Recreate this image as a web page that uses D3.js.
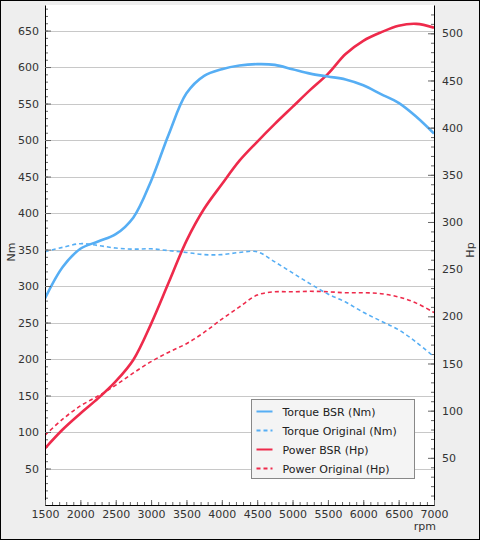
<!DOCTYPE html>
<html lang="en">
<head>
  <meta charset="UTF-8">
  <title>Dyno</title>
  <script src="https://d3js.org/d3.v7.min.js"></script>
  <style>
    body { margin: 0; background: #fff; }
    svg { display: block; font-family: "DejaVu Sans", sans-serif; }
  </style>
</head>
<body>
  <div id="chart"></div>
  <script>
    const rpm = [1500, 1750, 2000, 2250, 2500, 2750, 3000, 3250, 3500, 3750, 4000, 4250,
                 4500, 4750, 5000, 5250, 5500, 5750, 6000, 6250, 6500, 6750, 7000];
    const torqueBsr = [283, 326, 351, 361, 371, 394, 444, 508, 564, 588, 597, 602,
                       604, 603, 597, 591, 587, 583, 575, 563, 551, 532, 509];
    const torqueOrig = [347, 353, 358, 355.5, 352, 350.5, 351, 348.5, 346, 343, 343, 346,
                        347, 333, 318, 303, 289, 278, 264, 252, 240, 223, 203];
    const powerBsr = [60, 80, 97, 113, 131, 154, 192, 236, 280, 314, 340, 365,
                      385, 404, 422, 440, 457, 478, 492, 501, 508, 510, 506];
    const powerOrig = [74, 91, 105, 115.5, 127, 140, 152, 162, 171, 183, 197, 210,
                       222.5, 226, 226, 226.5, 226, 225, 225, 224, 220.5, 214, 204];

    const nmTicks = [50, 100, 150, 200, 250, 300, 350, 400, 450, 500, 550, 600, 650];
    const hpTicks = [50, 100, 150, 200, 250, 300, 350, 400, 450, 500];
    const rpmTicks = [1500, 2000, 2500, 3000, 3500, 4000, 4500, 5000, 5500, 6000, 6500, 7000];

    const legendItems = [
      { name: "Torque BSR (Nm)", color: "#56aef4", dash: null },
      { name: "Torque Original (Nm)", color: "#56aef4", dash: "4,3" },
      { name: "Power BSR (Hp)", color: "#ee2a4b", dash: null },
      { name: "Power Original (Hp)", color: "#ee2a4b", dash: "4,3" }
    ];

    const width = 480, height = 540;
    const plot = { left: 45, right: 434, top: 5, bottom: 505 };

    const svg = d3.select("#chart").append("svg")
      .attr("width", width)
      .attr("height", height);

    svg.append("rect")
      .attr("x", 0.5).attr("y", 0.5)
      .attr("width", width - 1).attr("height", height - 1)
      .attr("fill", "#eeeeee")
      .attr("stroke", "#000");

    svg.append("rect")
      .attr("x", plot.left).attr("y", plot.top)
      .attr("width", plot.right - plot.left).attr("height", plot.bottom - plot.top)
      .attr("fill", "#fff");

    const x = d3.scaleLinear().domain([1500, 7000]).range([plot.left, plot.right]);
    const yNm = d3.scaleLinear().domain([0, 685]).range([plot.bottom, plot.top]);
    const yHp = d3.scaleLinear().domain([0, 530]).range([plot.bottom, plot.top]);

    // grid
    svg.append("g")
      .selectAll("line")
      .data(nmTicks)
      .enter()
      .append("line")
      .attr("x1", plot.left)
      .attr("x2", plot.right)
      .attr("y1", d => Math.round(yNm(d)) + 0.5)
      .attr("y2", d => Math.round(yNm(d)) + 0.5)
      .attr("stroke", "#c8c8c8");

    // minor ticks
    const minorNm = d3.range(10, 685, 10);
    const minorHp = d3.range(10, 530, 10);
    const minorRpm = d3.range(1600, 7000, 100);

    svg.append("g")
      .attr("transform", `translate(${plot.left},0)`)
      .call(d3.axisLeft(yNm).tickValues(minorNm).tickSize(-3).tickFormat(""))
      .call(g => g.select(".domain").remove())
      .call(g => g.selectAll("line").attr("stroke", "#666"));

    svg.append("g")
      .attr("transform", `translate(${plot.right},0)`)
      .call(d3.axisRight(yHp).tickValues(minorHp).tickSize(-3).tickFormat(""))
      .call(g => g.select(".domain").remove())
      .call(g => g.selectAll("line").attr("stroke", "#666"));

    svg.append("g")
      .attr("transform", `translate(0,${plot.bottom})`)
      .call(d3.axisBottom(x).tickValues(minorRpm).tickSize(-3).tickFormat(""))
      .call(g => g.select(".domain").remove())
      .call(g => g.selectAll("line").attr("stroke", "#666"));

    // lines
    svg.append("clipPath").attr("id", "clip")
      .append("rect")
      .attr("x", plot.left).attr("y", plot.top)
      .attr("width", plot.right - plot.left).attr("height", plot.bottom - plot.top);

    const smooth = d3.curveCatmullRom.alpha(0.5);
    const lineNm = d3.line().x((d, i) => x(rpm[i])).y(d => yNm(d)).curve(smooth);
    const lineHp = d3.line().x((d, i) => x(rpm[i])).y(d => yHp(d)).curve(smooth);

    const series = [
      { values: powerOrig, line: lineHp, item: legendItems[3], w: 1.6 },
      { values: torqueOrig, line: lineNm, item: legendItems[1], w: 1.6 },
      { values: powerBsr, line: lineHp, item: legendItems[2], w: 2.6 },
      { values: torqueBsr, line: lineNm, item: legendItems[0], w: 2.6 }
    ];

    const lines = svg.append("g").attr("clip-path", "url(#clip)");
    series.forEach(s => {
      lines.append("path")
        .attr("d", s.line(s.values))
        .attr("fill", "none")
        .attr("stroke", s.item.color)
        .attr("stroke-width", s.w)
        .attr("stroke-dasharray", s.item.dash);
    });

    // axes
    const styleAxis = g => {
      g.selectAll("text").attr("font-size", "11px").attr("fill", "#333")
        .attr("font-family", "DejaVu Sans, sans-serif");
      g.selectAll(".tick line").attr("stroke", "#666");
      g.select(".domain").attr("stroke", "#000");
    };

    svg.append("g")
      .attr("transform", `translate(${plot.left},0)`)
      .call(d3.axisLeft(yNm).tickValues(nmTicks).tickSize(-6).tickSizeOuter(0).tickPadding(6)
        .tickFormat(d3.format("d")))
      .call(styleAxis);

    svg.append("g")
      .attr("transform", `translate(${plot.right},0)`)
      .call(d3.axisRight(yHp).tickValues(hpTicks).tickSize(-6).tickSizeOuter(0).tickPadding(8)
        .tickFormat(d3.format("d")))
      .call(styleAxis);

    svg.append("g")
      .attr("transform", `translate(0,${plot.bottom})`)
      .call(d3.axisBottom(x).tickValues(rpmTicks).tickSize(-5).tickSizeOuter(0).tickPadding(5)
        .tickFormat(d3.format("d")))
      .call(styleAxis);

    // axis titles
    svg.append("text")
      .attr("transform", `translate(15,252) rotate(-90)`)
      .attr("text-anchor", "middle")
      .attr("font-size", "11px")
      .attr("fill", "#333")
      .text("Nm");

    svg.append("text")
      .attr("transform", `translate(474,250) rotate(-90)`)
      .attr("text-anchor", "middle")
      .attr("font-size", "11px")
      .attr("fill", "#333")
      .text("Hp");

    svg.append("text")
      .attr("x", 436)
      .attr("y", 530)
      .attr("text-anchor", "end")
      .attr("font-size", "11px")
      .attr("fill", "#333")
      .text("rpm");

    // legend
    const legend = svg.append("g").attr("transform", "translate(251.5,399.5)");
    legend.append("rect")
      .attr("width", 163).attr("height", 79)
      .attr("fill", "#f4f4f4")
      .attr("stroke", "#888");

    const rows = legend.selectAll(".row")
      .data(legendItems)
      .enter()
      .append("g")
      .attr("transform", (d, i) => `translate(0,${12 + i * 19})`);

    rows.append("line")
      .attr("x1", 5).attr("x2", 21)
      .attr("stroke", d => d.color)
      .attr("stroke-width", 2)
      .attr("stroke-dasharray", d => d.dash);

    rows.append("text")
      .attr("x", 31)
      .attr("y", 4)
      .attr("font-size", "11px")
      .attr("fill", "#222")
      .text(d => d.name);
  </script>
</body>
</html>
